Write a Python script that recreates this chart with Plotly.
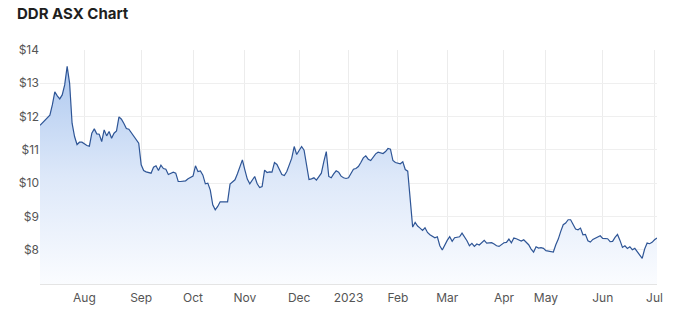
import pandas as pd
import plotly.graph_objects as go

# ASX trading calendar (holidays when the exchange was closed)
asx_holidays = ['2022-09-22', '2022-12-26', '2022-12-27', '2023-01-02', '2023-01-26',
                '2023-04-07', '2023-04-10', '2023-04-25', '2023-06-12']
start_date = '2022-07-06'
end_date = '2023-07-04'

# Closing prices (AUD), one per trading day
prices = [
    11.74, 11.82, 11.89, 11.97, 12.04, 12.35, 12.74, 12.62, 12.53, 12.65,
    12.95, 13.51, 13.00, 11.80, 11.40, 11.16, 11.23, 11.23, 11.18, 11.13,
    11.11, 11.50, 11.63, 11.48, 11.47, 11.25, 11.60, 11.42, 11.55, 11.35,
    11.50, 11.57, 11.99, 11.92, 11.79, 11.64, 11.62, 11.51, 11.41, 11.31,
    11.20, 10.55, 10.38, 10.34, 10.32, 10.30, 10.48, 10.52, 10.38, 10.54,
    10.44, 10.42, 10.26, 10.29, 10.33, 10.30, 10.05, 10.05, 10.07, 10.07,
    10.13, 10.17, 10.21, 10.52, 10.35, 10.37, 10.24, 9.98, 10.00, 9.79,
    9.35, 9.20, 9.30, 9.44, 9.44, 9.44, 9.44, 9.97, 10.04, 10.10,
    10.28, 10.50, 10.70, 10.40, 10.12, 9.98, 10.08, 10.20, 9.98, 9.87,
    9.90, 10.39, 10.32, 10.34, 10.33, 10.62, 10.56, 10.42, 10.26, 10.23,
    10.35, 10.55, 10.75, 11.10, 10.86, 10.98, 11.10, 10.99, 10.50, 10.11,
    10.13, 10.16, 10.09, 10.20, 10.30, 10.65, 10.95, 10.20, 10.16, 10.28,
    10.37, 10.33, 10.21, 10.16, 10.14, 10.16, 10.27, 10.42, 10.44, 10.50,
    10.62, 10.76, 10.82, 10.72, 10.68, 10.80, 10.88, 10.93, 10.91, 10.89,
    10.95, 11.04, 11.02, 10.68, 10.62, 10.61, 10.58, 10.64, 10.41, 10.36,
    9.50, 8.68, 8.82, 8.71, 8.65, 8.58, 8.66, 8.52, 8.45, 8.41,
    8.36, 8.39, 8.12, 7.99, 8.16, 8.28, 8.39, 8.25, 8.36, 8.38,
    8.39, 8.50, 8.40, 8.27, 8.12, 8.19, 8.10, 8.17, 8.14, 8.21,
    8.28, 8.20, 8.20, 8.21, 8.17, 8.12, 8.10, 8.16, 8.21, 8.22,
    8.32, 8.21, 8.35, 8.33, 8.29, 8.26, 8.30, 8.21, 8.15, 8.02,
    7.93, 8.09, 8.05, 8.06, 8.04, 7.97, 7.95, 7.94, 7.93, 8.15,
    8.32, 8.55, 8.75, 8.80, 8.90, 8.90, 8.75, 8.62, 8.60, 8.65,
    8.45, 8.46, 8.27, 8.23, 8.31, 8.34, 8.38, 8.42, 8.34, 8.34,
    8.33, 8.24, 8.25, 8.37, 8.46, 8.28, 8.07, 8.12, 8.04, 8.09,
    8.00, 8.04, 7.94, 7.85, 7.74, 8.02, 8.20, 8.18, 8.22, 8.30,
    8.35,
]

month_labels = ['Aug', 'Sep', 'Oct', 'Nov', 'Dec', '2023', 'Feb', 'Mar', 'Apr', 'May', 'Jun', 'Jul']
y_ticks = [8, 9, 10, 11, 12, 13, 14]
y_tick_labels = ['$8', '$9', '$10', '$11', '$12', '$13', '$14']

dates = [d for d in pd.bdate_range(start_date, end_date)
         if d.strftime('%Y-%m-%d') not in asx_holidays]
n = min(len(dates), len(prices))
dates = dates[:n]
prices = prices[:n]
x = [d.strftime('%Y-%m-%d') for d in dates]

# first trading day of each month (after the first month)
tickvals = []
seen = {(dates[0].year, dates[0].month)}
for d in dates:
    key = (d.year, d.month)
    if key not in seen:
        seen.add(key)
        tickvals.append(d.strftime('%Y-%m-%d'))
tickvals = tickvals[:len(month_labels)]

fig = go.Figure()
fig.add_trace(go.Scatter(
    x=x, y=prices, mode='lines',
    line=dict(color='#2e5596', width=1.2),
    fill='tozeroy',
    fillgradient=dict(type='vertical', start=6.97, stop=13.6,
                      colorscale=[[0, '#fcfdff'], [0.5, '#dde8f9'], [1, '#adc8ef']]),
    hoverinfo='skip',
))

font_family = 'Inter, Liberation Sans, Arial, sans-serif'
fig.update_layout(
    width=679, height=317,
    margin=dict(l=40, r=22, t=50, b=27),
    paper_bgcolor='white', plot_bgcolor='white',
    showlegend=False,
    title=dict(text='<b>DDR ASX Chart</b>', xref='container', yref='container',
               x=17 / 679, xanchor='left', y=1 - 14 / 317, yanchor='middle',
               font=dict(family=font_family, size=15, color='#1f1f1f')),
    font=dict(family=font_family, size=12, color='#555'),
    xaxis=dict(type='category', range=[0, n - 1],
               tickmode='array', tickvals=tickvals, ticktext=month_labels,
               showgrid=True, gridcolor='#ececec', gridwidth=1,
               showline=True, linecolor='#e4e4e4', linewidth=1,
               ticks='', ticklen=0, zeroline=False, ticklabelstandoff=3,
               tickfont=dict(size=12, color='#555')),
    yaxis=dict(range=[6.97, 14], tickmode='array', tickvals=y_ticks, ticktext=y_tick_labels,
               showgrid=True, gridcolor='#efefef', gridwidth=1,
               showline=False, zeroline=False, ticks='', ticklen=0,
               tickfont=dict(size=12, color='#555')),
)

fig.write_html('out.html')
